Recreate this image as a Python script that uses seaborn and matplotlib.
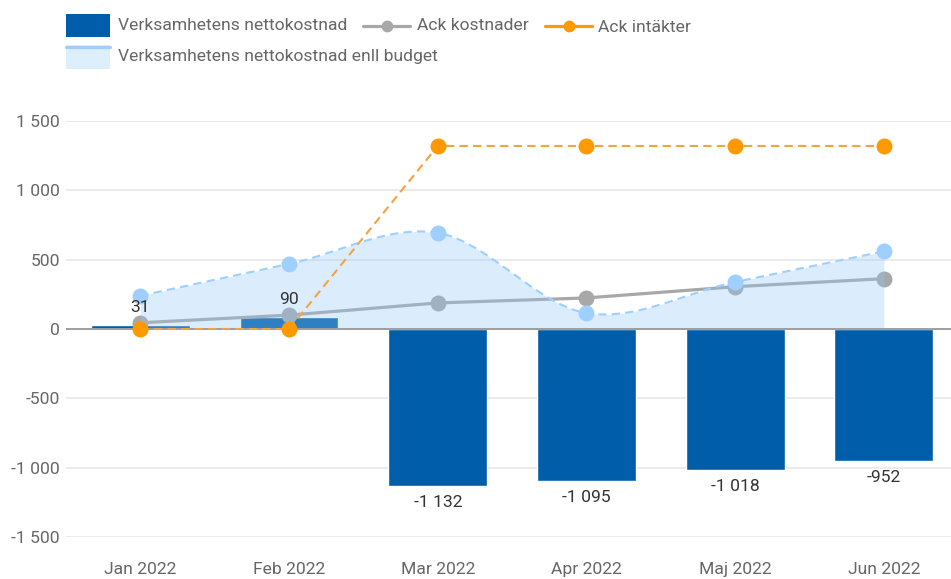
import numpy as np
import matplotlib
matplotlib.use("Agg")
import matplotlib.pyplot as plt
from matplotlib.patches import Rectangle
from matplotlib.lines import Line2D
from matplotlib.ticker import FuncFormatter
import seaborn as sns

# ---- data ----
months = ["Jan 2022", "Feb 2022", "Mar 2022", "Apr 2022", "Maj 2022", "Jun 2022"]
netto = [31, 90, -1132, -1095, -1018, -952]
ack_kostnader = [45, 100, 188, 224, 305, 363]
ack_intakter = [0, 0, 1320, 1320, 1320, 1320]
budget = [240, 469, 693, 115, 339, 560]
yticks = [-1500, -1000, -500, 0, 500, 1000, 1500]

legend_labels = ["Verksamhetens nettokostnad", "Ack kostnader", "Ack intäkter",
                 "Verksamhetens nettokostnad enll budget"]

# ---- colours ----
C_BAR = "#005DAA"
C_GRAY = "#A8A8A8"
C_ORANGE = "#FF9900"
C_ORANGE_LINE = "#F4A340"
C_BLUE = "#9FCFFF"
C_FILL = "#92CAFA"
C_TEXT = "#666666"
C_LABEL = "#333333"

sns.set_theme(style="white")
plt.rcParams["font.family"] = ["Roboto", "DejaVu Sans"]
plt.rcParams["axes.unicode_minus"] = False

W, H = 951, 579
fig = plt.figure(figsize=(W / 100, H / 100), dpi=100)
ax_left, ax_top, ax_bottom, ax_right = 66, 121, 537, 951
ax = fig.add_axes([ax_left / W, (H - ax_bottom) / H, (ax_right - ax_left) / W, (ax_bottom - ax_top) / H])

x = np.arange(len(months))

# bars
sns.barplot(x=months, y=netto, color=C_BAR, saturation=1, width=0.665, ax=ax, zorder=2)

# gray line (below area fill)
ax.plot(x, ack_kostnader, color=C_GRAY, lw=2.3, marker="o", ms=11.5,
        markerfacecolor=C_GRAY, markeredgewidth=0, zorder=3, solid_capstyle="round")


# smooth (Catmull-Rom) curve through budget values for drawing
def catmull_rom(xs, ys, n=40):
    xs = np.asarray(xs, float)
    ys = np.asarray(ys, float)
    m = np.zeros_like(ys)
    m[1:-1] = (ys[2:] - ys[:-2]) / 2.0
    m[0] = ys[1] - ys[0]
    m[-1] = ys[-1] - ys[-2]
    outx, outy = [], []
    for i in range(len(xs) - 1):
        t = np.linspace(0, 1, n, endpoint=(i == len(xs) - 2))
        h00 = 2 * t**3 - 3 * t**2 + 1
        h10 = t**3 - 2 * t**2 + t
        h01 = -2 * t**3 + 3 * t**2
        h11 = t**3 - t**2
        outx.append(xs[i] + t * (xs[i + 1] - xs[i]))
        outy.append(h00 * ys[i] + h10 * m[i] + h01 * ys[i + 1] + h11 * m[i + 1])
    return np.concatenate(outx), np.concatenate(outy)


sx, sy = catmull_rom(x, budget)
ax.fill_between(sx, 0, sy, color=C_FILL, alpha=0.32, lw=0, zorder=4)
ax.plot(sx, sy, color=C_BLUE, lw=1.5, ls=(0, (4, 2.5)), zorder=5)
ax.plot(x, budget, ls="none", marker="o", ms=11.5, markerfacecolor=C_BLUE,
        markeredgewidth=0, zorder=5.5)

# zero line
ax.axhline(0, color="#9E9E9E", lw=1.4, zorder=4.5)

# orange line
ax.plot(x, ack_intakter, color=C_ORANGE_LINE, lw=1.5, ls=(0, (4, 2.5)), zorder=6)
ax.plot(x, ack_intakter, ls="none", marker="o", ms=11.5, markerfacecolor=C_ORANGE,
        markeredgewidth=0, zorder=6.5)


def fmt(v):
    s = f"{abs(int(v)):,}".replace(",", " ")
    return ("-" if v < 0 else "") + s


# data labels
for xi, v in zip(x, netto):
    off = 12.5 if v >= 0 else -12
    ax.annotate(fmt(v), (xi, v), xytext=(0, off), textcoords="offset points",
                ha="center", va="center", fontsize=12.6, color=C_LABEL, zorder=7)

# axes styling
ax.set_xlim(-0.5, -0.5 + (ax_right - ax_left) / 148.7)
ax.set_ylim(-1500, 1500)
ax.set_yticks(yticks)
ax.yaxis.set_major_formatter(FuncFormatter(lambda v, p: fmt(v)))
ax.set_xlabel("")
ax.set_ylabel("")
ax.grid(axis="y", color="#E6E6E6", lw=1.1, zorder=0)
ax.grid(axis="x", visible=False)
ax.set_axisbelow(True)
for s in ax.spines.values():
    s.set_visible(False)
ax.tick_params(axis="y", length=0, pad=4.5, labelsize=12.6, labelcolor=C_TEXT)
ax.tick_params(axis="x", length=0, pad=18, labelsize=12.6, labelcolor=C_TEXT)
ax.set_clip_on(False)

# ---- legend (figure pixel coords, y from top) ----
def fx(px):
    return px / W


def fy(py):
    return 1 - py / H


tf = fig.transFigure
fig.add_artist(Rectangle((fx(66), fy(37)), fx(110) - fx(66), fy(14) - fy(37),
                         transform=tf, facecolor=C_BAR, edgecolor="none"))
fig.text(fx(118), fy(26), legend_labels[0], fontsize=12.6, color=C_TEXT, va="center", ha="left")

fig.add_artist(Line2D([fx(363), fx(410)], [fy(26), fy(26)], transform=tf, color=C_GRAY, lw=2.3))
fig.add_artist(Line2D([fx(386.5)], [fy(26)], transform=tf, color=C_GRAY, marker="o", ms=8.5, markeredgewidth=0))
fig.text(fx(417), fy(26), legend_labels[1], fontsize=12.6, color=C_TEXT, va="center", ha="left")

fig.add_artist(Line2D([fx(545), fx(592)], [fy(26), fy(26)], transform=tf, color=C_ORANGE, lw=2.3))
fig.add_artist(Line2D([fx(568.5)], [fy(26)], transform=tf, color=C_ORANGE, marker="o", ms=8.5, markeredgewidth=0))
fig.text(fx(598), fy(28), legend_labels[2], fontsize=12.6, color=C_TEXT, va="center", ha="left")

fig.add_artist(Rectangle((fx(66), fy(69)), fx(110) - fx(66), fy(45) - fy(69),
                         transform=tf, facecolor="#DDEEFD", edgecolor="none"))
fig.add_artist(Line2D([fx(66), fx(110)], [fy(46.5), fy(46.5)], transform=tf, color=C_BLUE, lw=2.3))
fig.text(fx(118), fy(57), legend_labels[3], fontsize=12.6, color=C_TEXT, va="center", ha="left")

fig.savefig("out.png", dpi=100)
